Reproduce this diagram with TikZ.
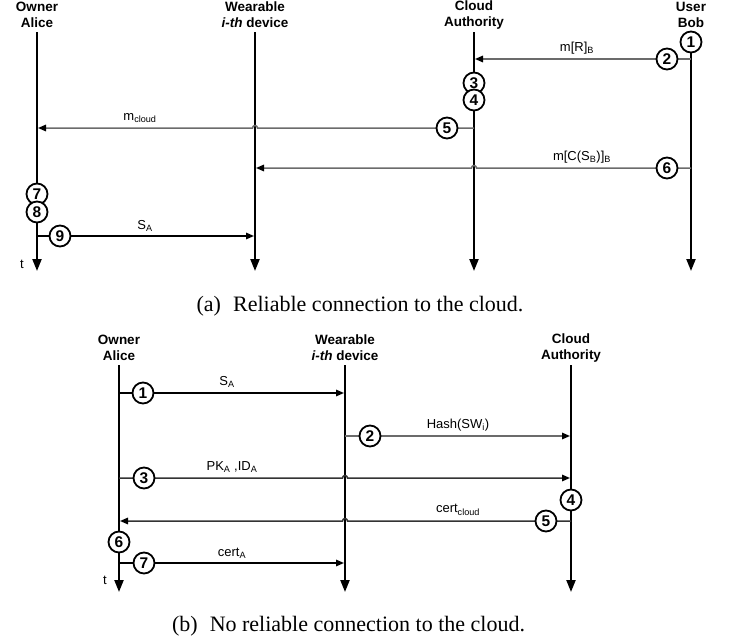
\documentclass[tikz,border=0pt]{standalone}
\usepackage{fontspec}
\setmainfont{Liberation Serif}
\setsansfont{Liberation Sans}
\usetikzlibrary{arrows.meta}
\begin{document}
\begin{tikzpicture}[x=1pt,y=-1pt,
  hdr/.style={font=\sffamily\bfseries\fontsize{13.5}{16}\selectfont, align=center},
  lbl/.style={font=\sffamily\fontsize{13}{15}\selectfont, inner sep=0pt},
  num/.style={circle, draw, line width=1.8pt, fill=white, minimum size=21pt, inner sep=0pt, font=\sffamily\bfseries\fontsize{15.5}{17}\selectfont},
  life/.style={line width=2.2pt, -{Triangle[length=12pt,width=9pt]}},
  msg/.style={line width=1.5pt, -{Triangle[length=8pt,width=6.5pt,color=black]}},
  gmsg/.style={msg, draw=black!58},
  bmsg/.style={msg, draw=black!80},
  captxt/.style={font=\fontsize{22}{26}\selectfont, anchor=base, inner sep=0pt}
]
\useasboundingbox (0,0) rectangle (732,640);

% ---------------- (a) ----------------
\node[hdr] (hA) at (37,15) {Owner\\Alice};
\node[hdr] (hW) at (255,15) {Wearable\\\textit{i-th} device};
\node[hdr] (hC) at (474,15) {Cloud\\Authority};
\node[hdr] (hB) at (691,15) {User\\Bob};

\coordinate (aT) at (37,32);  \coordinate (aE) at (37,271);
\coordinate (wT) at (255,32); \coordinate (wE) at (255,271);
\coordinate (cT) at (474,32); \coordinate (cE) at (474,271);
\coordinate (bT) at (691,32); \coordinate (bE) at (691,271);
\draw[life] (aT) -- (aE);
\draw[life] (wT) -- (wE);
\draw[life] (cT) -- (cE);
\draw[life] (bT) -- (bE);
\node[lbl] (ta) at (22,264) {t};

% message 2: Bob -> Cloud
\coordinate (m2s) at (691,59); \coordinate (m2e) at (475,59);
\draw[gmsg] (m2s) -- (m2e);
\node[lbl] (l2) at (577,48) {m[R]\textsubscript{B}};

% message 5: Cloud -> Alice (jump over wearable)
\coordinate (m5s) at (474,128); \coordinate (m5e) at (38,128);
\draw[gmsg] (m5s) -- (257.5,128) arc[start angle=0,end angle=-180,radius=2.5] -- (m5e);
\node[lbl] (l5) at (140,118) {m\textsubscript{cloud}};

% message 6: Bob -> Wearable (jump over cloud)
\coordinate (m6s) at (691,168); \coordinate (m6e) at (256,168);
\draw[gmsg] (m6s) -- (476.5,168) arc[start angle=0,end angle=-180,radius=2.5] -- (m6e);
\node[lbl] (l6) at (582,157) {m[C(S\textsubscript{B})]\textsubscript{B}};

% message 9: Alice -> Wearable
\coordinate (m9s) at (37,236); \coordinate (m9e) at (254,236);
\draw[msg] (m9s) -- (m9e);
\node[lbl] (l9) at (145,226) {S\textsubscript{A}};

\node[num] (a1) at (691,42) {1};
\node[num] (a2) at (667,59) {2};
\node[num] (a3) at (474,83) {3};
\node[num] (a4) at (474,100) {4};
\node[num] (a5) at (447,128) {5};
\node[num] (a6) at (667,168) {6};
\node[num] (a7) at (37,194) {7};
\node[num] (a8) at (37,212) {8};
\node[num] (a9) at (60,236) {9};

\node[captxt] (capa) at (360,311) {(a)\hspace{0.3em} Reliable connection to the cloud.};

% ---------------- (b) ----------------
\node[hdr] (hA2) at (119,348) {Owner\\Alice};
\node[hdr] (hW2) at (345,348) {Wearable\\\textit{i-th} device};
\node[hdr] (hC2) at (571,348) {Cloud\\Authority};

\coordinate (aT2) at (119,365); \coordinate (aE2) at (119,592);
\coordinate (wT2) at (345,365); \coordinate (wE2) at (345,592);
\coordinate (cT2) at (571,365); \coordinate (cE2) at (571,592);
\draw[life] (aT2) -- (aE2);
\draw[life] (wT2) -- (wE2);
\draw[life] (cT2) -- (cE2);
\node[lbl] (tb) at (105,580) {t};

% 1: Alice -> Wearable
\coordinate (n1s) at (119,393); \coordinate (n1e) at (344,393);
\draw[msg] (n1s) -- (n1e);
\node[lbl] (k1) at (227,382) {S\textsubscript{A}};

% 2: Wearable -> Cloud
\coordinate (n2s) at (345,436); \coordinate (n2e) at (570,436);
\draw[gmsg] (n2s) -- (n2e);
\node[lbl] (k2) at (458,425) {Hash(SW\textsubscript{i})};

% 3: Alice -> Cloud (jump over wearable)
\coordinate (n3s) at (119,478); \coordinate (n3e) at (570,478);
\draw[bmsg] (n3s) -- (342.5,478) arc[start angle=180,end angle=360,radius=2.5] -- (n3e);
\node[lbl] (k3) at (232,467) {PK\textsubscript{A} ,ID\textsubscript{A}};

% 5: Cloud -> Alice (jump over wearable)
\coordinate (n5s) at (571,521); \coordinate (n5e) at (120,521);
\draw[bmsg] (n5s) -- (347.5,521) arc[start angle=0,end angle=-180,radius=2.5] -- (n5e);
\node[lbl] (k5) at (458,510) {cert\textsubscript{cloud}};

% 7: Alice -> Wearable
\coordinate (n7s) at (119,563); \coordinate (n7e) at (344,563);
\draw[msg] (n7s) -- (n7e);
\node[lbl] (k7) at (232,553) {cert\textsubscript{A}};

\node[num] (b1) at (143,393) {1};
\node[num] (b2) at (370,436) {2};
\node[num] (b3) at (144,478) {3};
\node[num] (b4) at (571,500) {4};
\node[num] (b5) at (546,521) {5};
\node[num] (b6) at (119,542) {6};
\node[num] (b7) at (144,563) {7};

\node[captxt] (capb) at (348.5,631) {(b)\hspace{0.3em} No reliable connection to the cloud.};
\end{tikzpicture}
\end{document}
